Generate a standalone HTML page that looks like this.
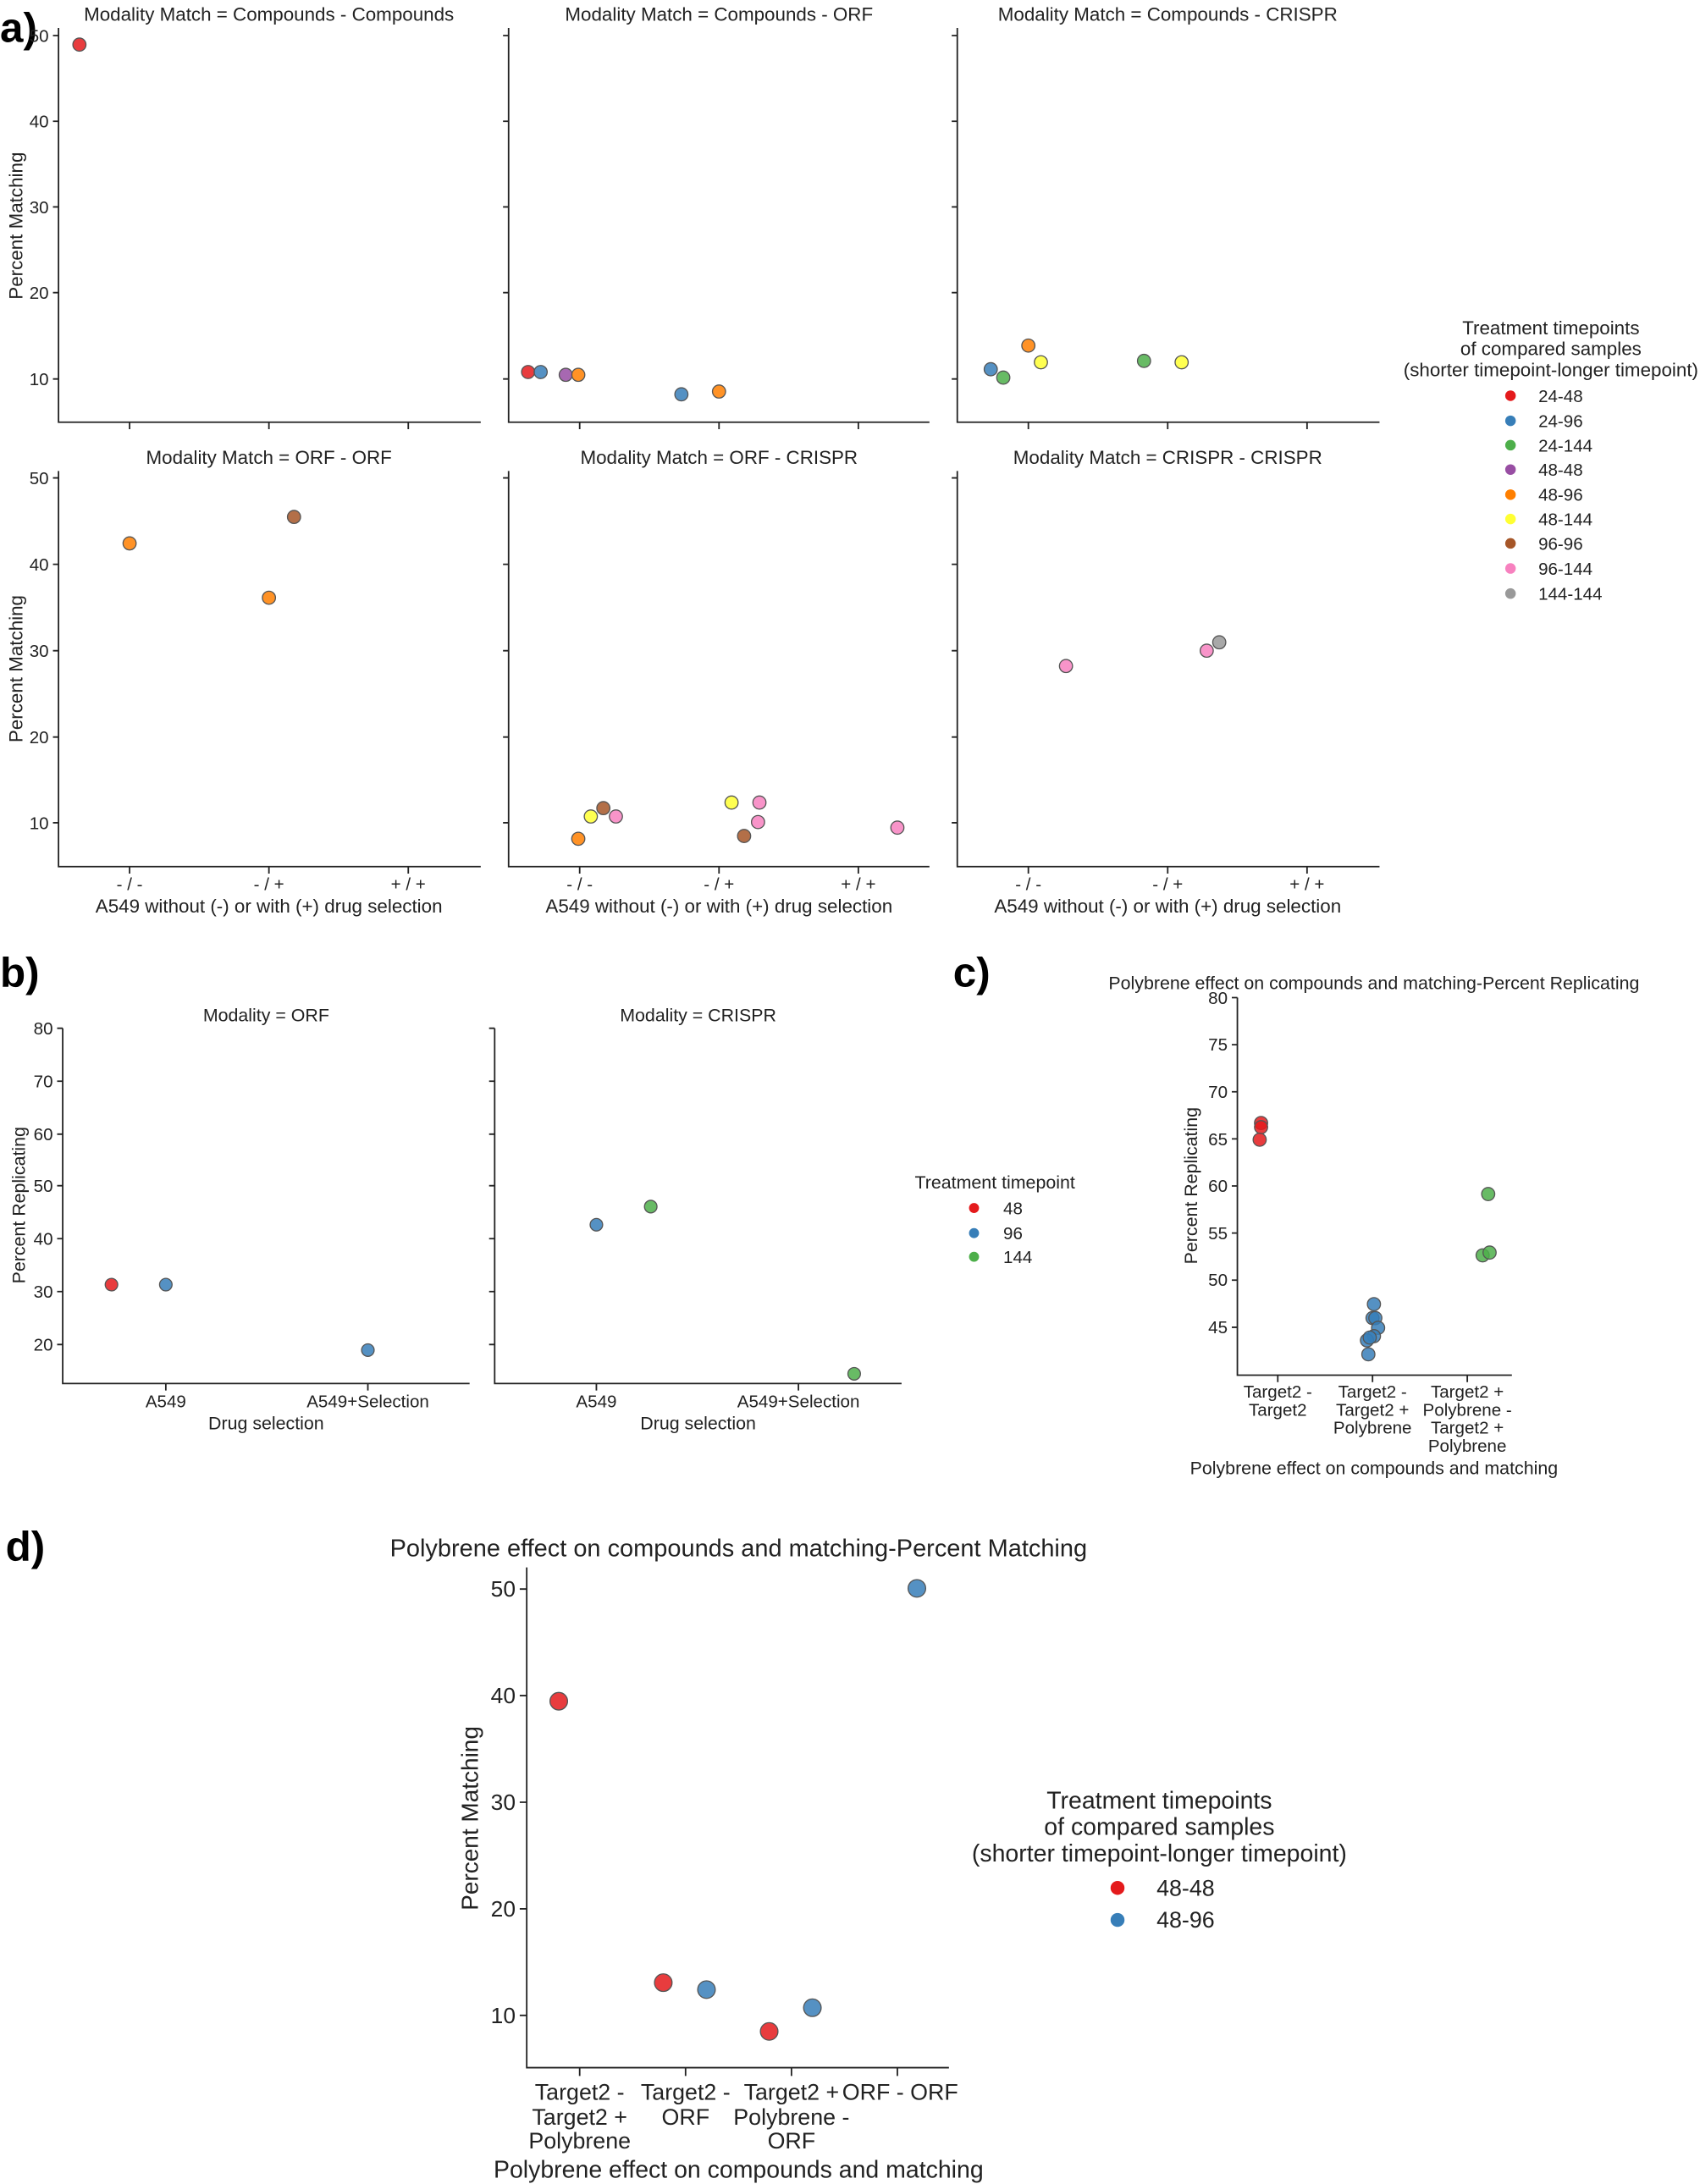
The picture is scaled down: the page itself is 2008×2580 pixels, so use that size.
<!DOCTYPE html>
<html><head><meta charset="utf-8"><style>
html,body{margin:0;padding:0;background:#fff;}
svg{display:block;}
text{font-family:"Liberation Sans",sans-serif;fill:#222;}
.t{font-size:13px;text-anchor:middle;}
.tt{font-size:13.6px;text-anchor:middle;}
.tk{font-size:12.5px;}
.ax{stroke:#222;stroke-width:1.1;fill:none;}
circle{stroke:#555;stroke-width:0.8;fill-opacity:0.85;}
.lg circle{stroke:none;fill-opacity:1;}
.pl{font-size:30px;font-weight:bold;fill:#000;}
</style></head><body>
<svg width="2008" height="2580" viewBox="0 0 1220 1567.5" xmlns="http://www.w3.org/2000/svg">
<text class="pl" x="0" y="30">a)</text>
<text class="pl" x="0" y="708">b)</text>
<text class="pl" x="684" y="708">c)</text>
<text class="pl" x="4" y="1120">d)</text>

<g class="tt">
<text x="193" y="15">Modality Match = Compounds - Compounds</text>
<text x="516" y="15">Modality Match = Compounds - ORF</text>
<text x="838" y="15">Modality Match = Compounds - CRISPR</text>
<text x="193" y="333">Modality Match = ORF - ORF</text>
<text x="516" y="333">Modality Match = ORF - CRISPR</text>
<text x="838" y="333">Modality Match = CRISPR - CRISPR</text>
</g>
<path class="ax" d="M42,20V303H345 M365,20V303H667 M687,20V303H990"/>
<path class="ax" d="M42,338V622H345 M365,338V622H667 M687,338V622H990"/>
<path class="ax" d="M38,272h4M38,210h4M38,148.5h4M38,87h4M38,25.5h4
M361,272h4M361,210h4M361,148.5h4M361,87h4M361,25.5h4
M683,272h4M683,210h4M683,148.5h4M683,87h4M683,25.5h4
M38,590.5h4M38,529h4M38,467h4M38,405h4M38,343h4
M361,590.5h4M361,529h4M361,467h4M361,405h4M361,343h4
M683,590.5h4M683,529h4M683,467h4M683,405h4M683,343h4"/>
<path class="ax" d="M93,303v5M193,303v5M293,303v5M416,303v5M516,303v5M616,303v5M738,303v5M838,303v5M938,303v5
M93,622v5M193,622v5M293,622v5M416,622v5M516,622v5M616,622v5M738,622v5M838,622v5M938,622v5"/>
<g class="tk" text-anchor="end">
<text x="35" y="276.5">10</text><text x="35" y="214.5">20</text><text x="35" y="153">30</text><text x="35" y="91.5">40</text><text x="35" y="30">50</text>
<text x="35" y="595">10</text><text x="35" y="533.5">20</text><text x="35" y="471.5">30</text><text x="35" y="409.5">40</text><text x="35" y="347.5">50</text>
</g>
<g class="tk" text-anchor="middle">
<text x="93" y="639">- / -</text><text x="193" y="639">- / +</text><text x="293" y="639">+ / +</text>
<text x="416" y="639">- / -</text><text x="516" y="639">- / +</text><text x="616" y="639">+ / +</text>
<text x="738" y="639">- / -</text><text x="838" y="639">- / +</text><text x="938" y="639">+ / +</text>
</g>
<g class="tt">
<text x="193" y="655">A549 without (-) or with (+) drug selection</text>
<text x="516" y="655">A549 without (-) or with (+) drug selection</text>
<text x="838" y="655">A549 without (-) or with (+) drug selection</text>
<text transform="translate(16,162) rotate(-90)">Percent Matching</text>
<text transform="translate(16,480) rotate(-90)">Percent Matching</text>
</g>
<g>
<circle cx="57" cy="32" r="4.7" fill="#e41a1c"/>
<circle cx="379" cy="267" r="4.7" fill="#e41a1c"/>
<circle cx="388" cy="267" r="4.7" fill="#377eb8"/>
<circle cx="406" cy="269" r="4.7" fill="#984ea3"/>
<circle cx="415" cy="269" r="4.7" fill="#ff7f00"/>
<circle cx="489" cy="283" r="4.7" fill="#377eb8"/>
<circle cx="516" cy="281" r="4.7" fill="#ff7f00"/>
<circle cx="711" cy="265" r="4.7" fill="#377eb8"/>
<circle cx="720" cy="271" r="4.7" fill="#4daf4a"/>
<circle cx="738" cy="248" r="4.7" fill="#ff7f00"/>
<circle cx="747" cy="260" r="4.7" fill="#ffff33"/>
<circle cx="821" cy="259" r="4.7" fill="#4daf4a"/>
<circle cx="848" cy="260" r="4.7" fill="#ffff33"/>
<circle cx="93" cy="390" r="4.7" fill="#ff7f00"/>
<circle cx="211" cy="371" r="4.7" fill="#a65628"/>
<circle cx="193" cy="429" r="4.7" fill="#ff7f00"/>
<circle cx="415" cy="602" r="4.7" fill="#ff7f00"/>
<circle cx="424" cy="586" r="4.7" fill="#ffff33"/>
<circle cx="433" cy="580" r="4.7" fill="#a65628"/>
<circle cx="442" cy="586" r="4.7" fill="#f781bf"/>
<circle cx="525" cy="576" r="4.7" fill="#ffff33"/>
<circle cx="545" cy="576" r="4.7" fill="#f781bf"/>
<circle cx="544" cy="590" r="4.7" fill="#f781bf"/>
<circle cx="534" cy="600" r="4.7" fill="#a65628"/>
<circle cx="644" cy="594" r="4.7" fill="#f781bf"/>
<circle cx="765" cy="478" r="4.7" fill="#f781bf"/>
<circle cx="866" cy="467" r="4.7" fill="#f781bf"/>
<circle cx="875" cy="461" r="4.7" fill="#999999"/>
</g>
<g class="tt">
<text x="1113" y="240">Treatment timepoints</text>
<text x="1113" y="255">of compared samples</text>
<text x="1113" y="270">(shorter timepoint-longer timepoint)</text>
</g>
<g class="lg tk">
<circle cx="1084" cy="284" r="3.8" fill="#e41a1c"/><text x="1104" y="288.5">24-48</text>
<circle cx="1084" cy="302" r="3.8" fill="#377eb8"/><text x="1104" y="306.5">24-96</text>
<circle cx="1084" cy="319.5" r="3.8" fill="#4daf4a"/><text x="1104" y="324">24-144</text>
<circle cx="1084" cy="337" r="3.8" fill="#984ea3"/><text x="1104" y="341.5">48-48</text>
<circle cx="1084" cy="355" r="3.8" fill="#ff7f00"/><text x="1104" y="359.5">48-96</text>
<circle cx="1084" cy="372.5" r="3.8" fill="#ffff33"/><text x="1104" y="377">48-144</text>
<circle cx="1084" cy="390" r="3.8" fill="#a65628"/><text x="1104" y="394.5">96-96</text>
<circle cx="1084" cy="408" r="3.8" fill="#f781bf"/><text x="1104" y="412.5">96-144</text>
<circle cx="1084" cy="426" r="3.8" fill="#999999"/><text x="1104" y="430.5">144-144</text>
</g>

<g class="t">
<text x="191" y="733">Modality = ORF</text>
<text x="501" y="733">Modality = CRISPR</text>
</g>
<path class="ax" d="M45,738V993H337 M355,738V993H647"/>
<path class="ax" d="M41,738h4M41,776h4M41,814h4M41,851h4M41,889h4M41,927h4M41,965h4
M351,738h4M351,776h4M351,814h4M351,851h4M351,889h4M351,927h4M351,965h4
M119,993v5M264,993v5M428,993v5M573,993v5"/>
<g class="tk" text-anchor="end">
<text x="38" y="742.5">80</text><text x="38" y="780.5">70</text><text x="38" y="818.5">60</text><text x="38" y="855.5">50</text><text x="38" y="893.5">40</text><text x="38" y="931.5">30</text><text x="38" y="969.5">20</text>
</g>
<g class="tk" text-anchor="middle">
<text x="119" y="1010">A549</text><text x="264" y="1010">A549+Selection</text>
<text x="428" y="1010">A549</text><text x="573" y="1010">A549+Selection</text>
</g>
<g class="t">
<text x="191" y="1026">Drug selection</text>
<text x="501" y="1026">Drug selection</text>
<text transform="translate(18,865) rotate(-90)">Percent Replicating</text>
</g>
<circle cx="80" cy="922" r="4.5" fill="#e41a1c"/>
<circle cx="119" cy="922" r="4.5" fill="#377eb8"/>
<circle cx="264" cy="969" r="4.5" fill="#377eb8"/>
<circle cx="428" cy="879" r="4.5" fill="#377eb8"/>
<circle cx="467" cy="866" r="4.5" fill="#4daf4a"/>
<circle cx="613" cy="986" r="4.5" fill="#4daf4a"/>
<text class="t" x="714" y="853">Treatment timepoint</text>
<g class="lg tk">
<circle cx="699" cy="867" r="3.6" fill="#e41a1c"/><text x="720" y="871.5">48</text>
<circle cx="699" cy="885" r="3.6" fill="#377eb8"/><text x="720" y="889.5">96</text>
<circle cx="699" cy="902" r="3.6" fill="#4daf4a"/><text x="720" y="906.5">144</text>
</g>

<text class="t" x="986" y="710">Polybrene effect on compounds and matching-Percent Replicating</text>
<path class="ax" d="M888,716V987H1085"/>
<path class="ax" d="M884,716h4M884,749.8h4M884,783.6h4M884,817.4h4M884,851.2h4M884,885h4M884,918.8h4M884,952.6h4
M917,987v5M985,987v5M1053,987v5"/>
<g class="tk" text-anchor="end">
<text x="881" y="720.5">80</text><text x="881" y="754">75</text><text x="881" y="788">70</text><text x="881" y="822">65</text><text x="881" y="855.5">60</text><text x="881" y="889.5">55</text><text x="881" y="923">50</text><text x="881" y="957">45</text>
</g>
<g class="tk" text-anchor="middle">
<text x="917" y="1003">Target2 -</text><text x="917" y="1016">Target2</text>
<text x="985" y="1003">Target2 -</text><text x="985" y="1016">Target2 +</text><text x="985" y="1029">Polybrene</text>
<text x="1053" y="1003">Target2 +</text><text x="1053" y="1016">Polybrene -</text><text x="1053" y="1029">Target2 +</text><text x="1053" y="1042">Polybrene</text>
</g>
<text class="t" x="986" y="1058">Polybrene effect on compounds and matching</text>
<text class="t" transform="translate(859,851) rotate(-90)">Percent Replicating</text>
<g>
<circle cx="905" cy="806" r="4.7" fill="#e41a1c"/>
<circle cx="905" cy="809" r="4.7" fill="#e41a1c"/>
<circle cx="904" cy="818" r="4.7" fill="#e41a1c"/>
<circle cx="986" cy="936" r="4.7" fill="#377eb8"/>
<circle cx="985" cy="946" r="4.7" fill="#377eb8"/>
<circle cx="987" cy="946" r="4.7" fill="#377eb8"/>
<circle cx="989" cy="953" r="4.7" fill="#377eb8"/>
<circle cx="986" cy="959" r="4.7" fill="#377eb8"/>
<circle cx="981" cy="962" r="4.7" fill="#377eb8"/>
<circle cx="983" cy="960" r="4.7" fill="#377eb8"/>
<circle cx="982" cy="972" r="4.7" fill="#377eb8"/>
<circle cx="1068" cy="857" r="4.7" fill="#4daf4a"/>
<circle cx="1064" cy="901" r="4.7" fill="#4daf4a"/>
<circle cx="1069" cy="899" r="4.7" fill="#4daf4a"/>
</g>

<text x="530" y="1117" style="font-size:17.6px;text-anchor:middle">Polybrene effect on compounds and matching-Percent Matching</text>
<path class="ax" d="M378,1125V1484H681"/>
<path class="ax" d="M373,1446.5h5M373,1370h5M373,1293.5h5M373,1217h5M373,1140.5h5
M416,1484v6M492,1484v6M568,1484v6M644,1484v6"/>
<g style="font-size:16px" text-anchor="end">
<text x="370" y="1452">10</text><text x="370" y="1375.5">20</text><text x="370" y="1299">30</text><text x="370" y="1222.5">40</text><text x="370" y="1146">50</text>
</g>
<g style="font-size:16.3px" text-anchor="middle">
<text x="416" y="1507">Target2 -</text><text x="416" y="1525">Target2 +</text><text x="416" y="1542">Polybrene</text>
<text x="492" y="1507">Target2 -</text><text x="492" y="1525">ORF</text>
<text x="568" y="1507">Target2 +</text><text x="568" y="1525">Polybrene -</text><text x="568" y="1542">ORF</text>
<text x="646" y="1507">ORF - ORF</text>
</g>
<text x="530" y="1563" style="font-size:17.3px;text-anchor:middle">Polybrene effect on compounds and matching</text>
<text transform="translate(343,1305) rotate(-90)" style="font-size:17px;text-anchor:middle">Percent Matching</text>
<circle cx="401" cy="1221" r="6.3" fill="#e41a1c"/>
<circle cx="476" cy="1423" r="6.3" fill="#e41a1c"/>
<circle cx="507" cy="1428" r="6.3" fill="#377eb8"/>
<circle cx="552" cy="1458" r="6.3" fill="#e41a1c"/>
<circle cx="583" cy="1441" r="6.3" fill="#377eb8"/>
<circle cx="658" cy="1140" r="6.3" fill="#377eb8"/>
<g style="font-size:17.3px;text-anchor:middle">
<text x="832" y="1298">Treatment timepoints</text>
<text x="832" y="1317">of compared samples</text>
<text x="832" y="1336">(shorter timepoint-longer timepoint)</text>
</g>
<g class="lg" style="font-size:16.3px">
<circle cx="802" cy="1355" r="5" fill="#e41a1c"/><text x="830" y="1360.5">48-48</text>
<circle cx="802" cy="1378" r="5" fill="#377eb8"/><text x="830" y="1383.5">48-96</text>
</g>
</svg>
</body></html>
